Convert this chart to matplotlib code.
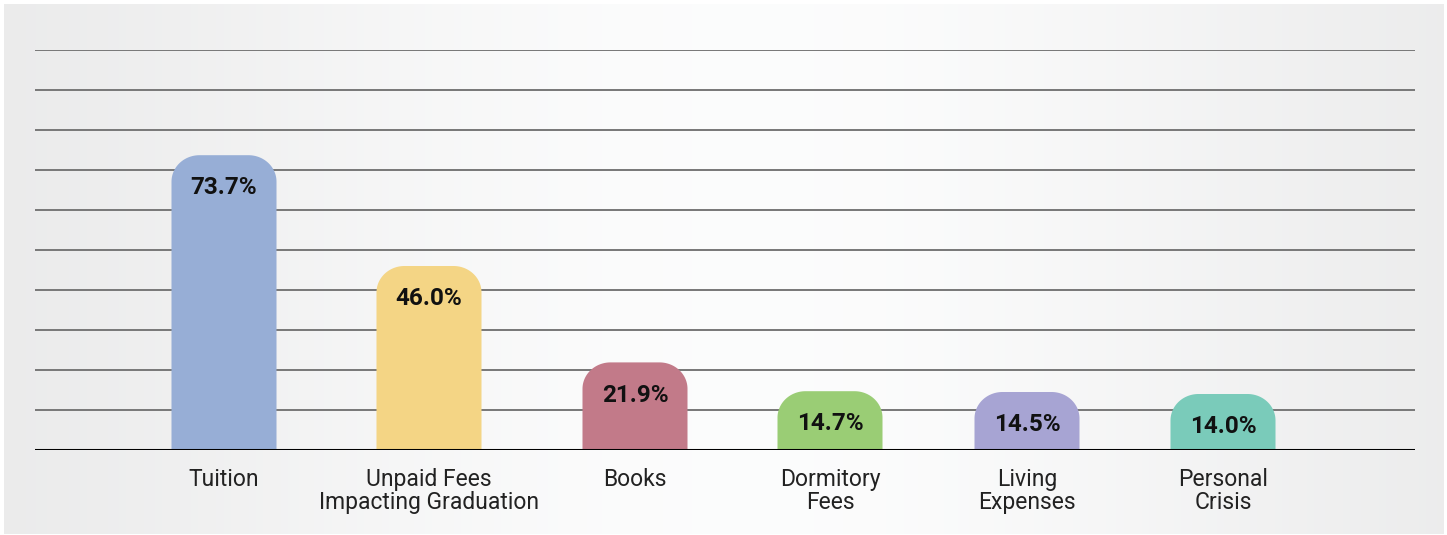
import numpy as np
import matplotlib.pyplot as plt
from matplotlib.path import Path
from matplotlib.patches import PathPatch

categories = ["Tuition", "Unpaid Fees\nImpacting Graduation", "Books",
              "Dormitory\nFees", "Living\nExpenses", "Personal\nCrisis"]
values = [73.7, 46.0, 21.9, 14.7, 14.5, 14.0]
colors = ["#97aed6", "#f4d585", "#c27a89", "#9acd75", "#a7a4d3", "#7acbba"]
xpos = [0, 1.025, 2.055, 3.03, 4.015, 4.995]

W, H = 1447, 535
fig = plt.figure(figsize=(W / 100, H / 100), dpi=100)
fig.patch.set_facecolor("white")

# background panel with horizontal gradient
bg = fig.add_axes([4 / W, 1 / H, 1440 / W, 530 / H])
xx = np.linspace(0, 1, 400)
shade = 0.9 + 0.09 * np.exp(-((xx - 0.52) / 0.45) ** 2)
grad = np.tile(shade, (2, 1))
bg.imshow(np.dstack([grad * 0.998, grad * 0.999, grad * 1.0]), aspect="auto",
          extent=[0, 1, 0, 1])
bg.axis("off")

ax = fig.add_axes([35 / W, 85 / H, 1380 / W, 400 / H])
ax.patch.set_alpha(0)
ax.set_xlim(-0.945, 5.955)
ax.set_ylim(0, 100)

for y in range(10, 101, 10):
    ax.axhline(y, color="#777777", lw=1.4, zorder=1)
ax.axhline(0, color="black", lw=2.2, zorder=4)

bw = 0.525
rx = 0.14      # corner radius in x data units
ry = 6.6       # corner radius in y data units
t = np.linspace(0, np.pi / 2, 30)
for x, v, c in zip(xpos, values, colors):
    x0, x1 = x - bw / 2, x + bw / 2
    pts = [(x0, 0), (x0, v - ry)]
    pts += [(x0 + rx - rx * np.cos(a), v - ry + ry * np.sin(a)) for a in t]
    pts += [(x1 - rx + rx * np.sin(a), v - ry + ry * np.cos(a)) for a in t]
    pts += [(x1, 0), (x0, 0)]
    ax.add_patch(PathPatch(Path(pts), facecolor=c, edgecolor="none", zorder=3))
    ax.text(x, v - 8.2, f"{v:.1f}%", ha="center", va="center",
            fontsize=17.5, fontweight="bold", family="Roboto", color="#111111",
            zorder=5)

ax.set_xticks(xpos)
ax.set_xticklabels(categories, fontsize=16.5, family="Roboto", color="#222222",
                   linespacing=0.97)
ax.tick_params(axis="x", length=0, pad=13)
ax.set_yticks([])
for s in ax.spines.values():
    s.set_visible(False)

fig.savefig("out.png", dpi=100)
